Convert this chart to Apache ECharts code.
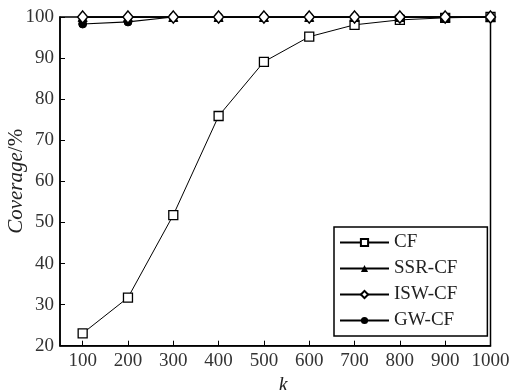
<!DOCTYPE html>
<html>
<head>
<meta charset="utf-8">
<script src="https://cdn.jsdelivr.net/npm/echarts@6/dist/echarts.min.js"></script>
<style>html,body{margin:0;padding:0;background:#fff}#c{width:511px;height:390px}</style>
</head>
<body>
<div id="c"></div>
<script>
const kValues = [100, 200, 300, 400, 500, 600, 700, 800, 900, 1000];
const cf = [23, 31.7, 51.8, 75.9, 89.1, 95.2, 98.1, 99.3, 99.8, 100];
const ssrCf = [100, 100, 100, 100, 100, 100, 100, 100, 100, 100];
const iswCf = [100, 100, 100, 100, 100, 100, 100, 100, 100, 100];
const gwCf = [98.3, 98.8, 100, 100, 100, 100, 100, 100, 100, 100];
const yTicks = [20, 30, 40, 50, 60, 70, 80, 90, 100];

const pairs = arr => kValues.map((k, i) => [k, arr[i]]);
const font = '"Liberation Serif", "Times New Roman", serif';
const chart = echarts.init(document.getElementById('c'));
chart.setOption({
  animation: false,
  backgroundColor: '#fff',
  grid: { left: 60, right: 20.5, top: 17, bottom: 44.3, outerBoundsMode: 'none', containLabel: false, show: true, borderColor: '#000', borderWidth: 1.5, backgroundColor: 'transparent' },
  xAxis: {
    type: 'value', min: 50, max: 1000,
    name: 'k', nameLocation: 'middle', nameGap: 30, nameMoveOverlap: false,
    nameTextStyle: { fontFamily: font, fontStyle: 'italic', fontSize: 20, color: '#222', padding: [0, 0, 0, 16] },
    axisLine: { lineStyle: { color: '#000', width: 1.5 } },
    axisTick: { inside: true, length: 5, customValues: kValues, lineStyle: { color: '#000', width: 1 } },
    axisLabel: { customValues: kValues, formatter: v => String(v), fontFamily: font, fontSize: 19, color: '#333', margin: 6 },
    splitLine: { show: false }
  },
  yAxis: {
    type: 'value', min: 20, max: 100, interval: 10,
    name: '{i|Coverage}{n|/%}', nameLocation: 'middle', nameGap: 33, nameRotate: 90, nameMoveOverlap: false,
    nameTextStyle: { rich: { i: { fontFamily: font, fontStyle: 'italic', fontSize: 21, color: '#222' }, n: { fontFamily: font, fontSize: 21, color: '#222' } } },
    axisLine: { lineStyle: { color: '#000', width: 1.5 } },
    axisTick: { inside: true, length: 5, lineStyle: { color: '#000', width: 1 } },
    axisLabel: { fontFamily: font, fontSize: 19, color: '#333', margin: 6 },
    splitLine: { show: false }
  },
  legend: {
    orient: 'vertical', left: 334, top: 227,
    backgroundColor: '#fff',
    borderColor: '#000', borderWidth: 1.5, borderRadius: 0,
    padding: [6, 30, 6, 5],
    itemWidth: 49, itemHeight: 9, itemGap: 7,
    textStyle: { fontFamily: font, fontSize: 19, color: '#222' },
    data: ['CF', 'SSR-CF', 'ISW-CF', 'GW-CF']
  },
  series: [
    { name: 'CF', type: 'line', data: pairs(cf), symbol: 'rect', symbolSize: 9, z: 2,
      lineStyle: { color: '#000', width: 1 }, itemStyle: { color: '#fff', borderColor: '#000', borderWidth: 1.3 } },
    { name: 'SSR-CF', type: 'line', data: pairs(ssrCf), symbol: 'triangle', symbolSize: 9, z: 3,
      lineStyle: { color: '#000', width: 1.5 }, itemStyle: { color: '#000', borderColor: '#000' } },
    { name: 'GW-CF', type: 'line', data: pairs(gwCf), symbol: 'circle', symbolSize: 8, z: 4,
      lineStyle: { color: '#000', width: 1.2 }, itemStyle: { color: '#000', borderColor: '#000' } },
    { name: 'ISW-CF', type: 'line', data: pairs(iswCf), symbol: 'diamond', symbolSize: [10, 12], z: 5,
      lineStyle: { color: '#000', width: 1.5 }, itemStyle: { color: '#fff', borderColor: '#000', borderWidth: 1.5 } }
  ]
});
</script>
</body>
</html>
